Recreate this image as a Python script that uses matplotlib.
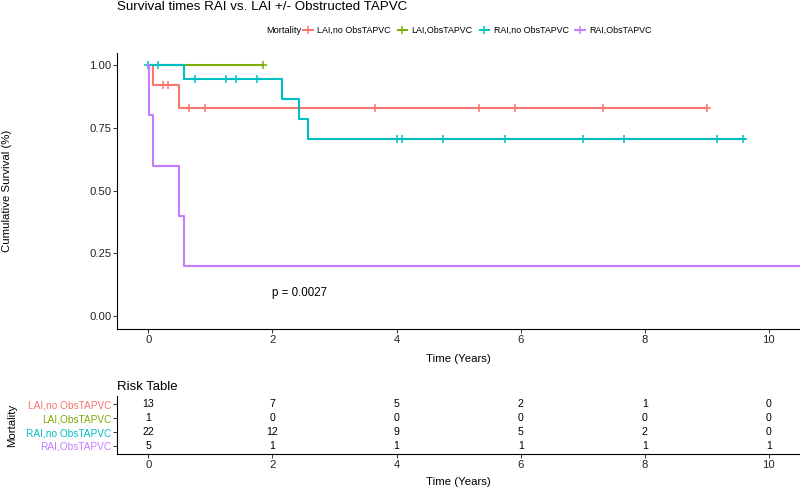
import matplotlib
matplotlib.use('Agg')
import matplotlib.pyplot as plt
from matplotlib.lines import Line2D

plt.rcParams['font.family'] = ['Liberation Sans', 'DejaVu Sans']

groups = ['LAI,no ObsTAPVC', 'LAI,ObsTAPVC', 'RAI,no ObsTAPVC', 'RAI,ObsTAPVC']
colors = ['#F8766D', '#7CAE00', '#00BFC4', '#C77CFF']

# step curves: change times and survival after each change (last point = end of follow-up)
lai_no_t = [0, 0.08, 0.5, 9.0]
lai_no_s = [1.0, 0.923, 0.830, 0.830]
lai_obs_t = [0, 1.84]
lai_obs_s = [1.0, 1.0]
rai_no_t = [0, 0.58, 2.16, 2.42, 2.58, 9.62]
rai_no_s = [1.0, 0.944, 0.866, 0.787, 0.708, 0.708]
rai_obs_t = [0, 0.01, 0.08, 0.5, 0.58, 10.5]
rai_obs_s = [1.0, 0.8, 0.6, 0.4, 0.2, 0.2]

# censor times
lai_no_cens = [0.24, 0.32, 0.66, 0.91, 3.66, 5.33, 5.91, 7.33, 9.0]
lai_obs_cens = [1.84]
rai_no_cens = [0.0, 0.16, 0.75, 1.25, 1.41, 1.75, 4.0, 4.08, 4.74, 5.75, 7.0, 7.66, 9.16, 9.58]
rai_obs_cens = []

# number at risk
risk_times = [0, 2, 4, 6, 8, 10]
risk_lai_no = [13, 7, 5, 2, 1, 0]
risk_lai_obs = [1, 0, 0, 0, 0, 0]
risk_rai_no = [22, 12, 9, 5, 2, 0]
risk_rai_obs = [5, 1, 1, 1, 1, 1]

curves = [(lai_no_t, lai_no_s, lai_no_cens),
          (lai_obs_t, lai_obs_s, lai_obs_cens),
          (rai_no_t, rai_no_s, rai_no_cens),
          (rai_obs_t, rai_obs_s, rai_obs_cens)]
risks = [risk_lai_no, risk_lai_obs, risk_rai_no, risk_rai_obs]

W, H = 800, 496
L = 117.3
fig = plt.figure(figsize=(8, 4.96), dpi=100)
ax = fig.add_axes([L / W, 1 - 328.7 / H, (800 - L) / W, (328.7 - 52.7) / H])

for (t, s, cens), c in zip(curves, colors):
    ax.step(t, s, where='post', color=c, lw=1.5)
    cs = []
    for ct in cens:
        # survival level at the censor time
        lvl = s[0]
        for ti, si in zip(t, s):
            if ti <= ct:
                lvl = si
        cs.append(lvl)
    ax.plot(cens, cs, ls='none', marker='+', ms=6, mew=1.1, color=c)

ax.text(2.0, 0.093, 'p = 0.0027', fontsize=8.3, ha='left', va='center')

ax.set_xlim(-0.5, 10.5)
ax.set_ylim(-0.05, 1.05)
ax.set_xticks(risk_times)
ax.set_yticks([0, 0.25, 0.5, 0.75, 1.0])
ax.set_yticklabels(['0.00', '0.25', '0.50', '0.75', '1.00'])
ax.set_xlabel('Time (Years)', fontsize=8.2, va='center')
ax.set_ylabel('Cumulative Survival (%)', fontsize=8.2, va='center')
ax.xaxis.set_label_coords((458.6 - L) / (800 - L), (328.7 - 359) / 276)
ax.yaxis.set_label_coords((7 - L) / (800 - L), 0.5)

ax.spines['top'].set_visible(False)
ax.spines['right'].set_visible(False)
ax.tick_params(labelsize=8.1, length=2.7, width=0.7, pad=1.5, colors='#333333', labelcolor='#222222')

fig.text(L / W, 1 - 7 / H, 'Survival times RAI vs. LAI +/- Obstructed TAPVC',
         fontsize=9.6, ha='left', va='center')

# legend
fig.text(266 / W, 1 - 30.7 / H, 'Mortality', fontsize=6.7, ha='left', va='center')
handles = [Line2D([0], [0], color=c, lw=1.4, marker='+', ms=6, mew=1.1) for c in colors]
fig.legend(handles, groups, loc='center left', bbox_to_anchor=(303 / W, 1 - 30.7 / H),
           ncol=4, frameon=False, fontsize=6.4, handlelength=1.1, handletextpad=0.5,
           columnspacing=0.75, borderpad=0, borderaxespad=0)

# risk table
rt = fig.add_axes([L / W, 1 - 454.3 / H, (800 - L) / W, (454.3 - 396) / H])
rows = [1, 2, 3, 4]
for r, vals in zip(rows, risks):
    for t, v in zip(risk_times, vals):
        rt.text(t, r, str(v), fontsize=7.6, ha='center', va='center')
rt.set_xlim(-0.5, 10.5)
rt.set_ylim(4.6, 0.4)
rt.set_xticks(risk_times)
rt.set_yticks(rows)
rt.set_yticklabels(groups)
rt.spines['top'].set_visible(False)
rt.spines['right'].set_visible(False)
rt.tick_params(labelsize=7.3, length=2.7, width=0.7, pad=1.5, colors='#333333', labelcolor='#222222')
for lab, c in zip(rt.get_yticklabels(), colors):
    lab.set_color(c)
rt.tick_params(axis='x', labelsize=8.1)
rt.set_xlabel('Time (Years)', fontsize=8.2, va='center')
rt.set_ylabel('Mortality', fontsize=8.2, va='center')
rt.xaxis.set_label_coords((458.6 - L) / (800 - L), (454.3 - 482) / 58.3)
rt.yaxis.set_label_coords((11.7 - L) / (800 - L), 0.5)
rt.set_title('Risk Table', fontsize=9.5, loc='left', pad=4)

fig.savefig('out.png', dpi=100)
